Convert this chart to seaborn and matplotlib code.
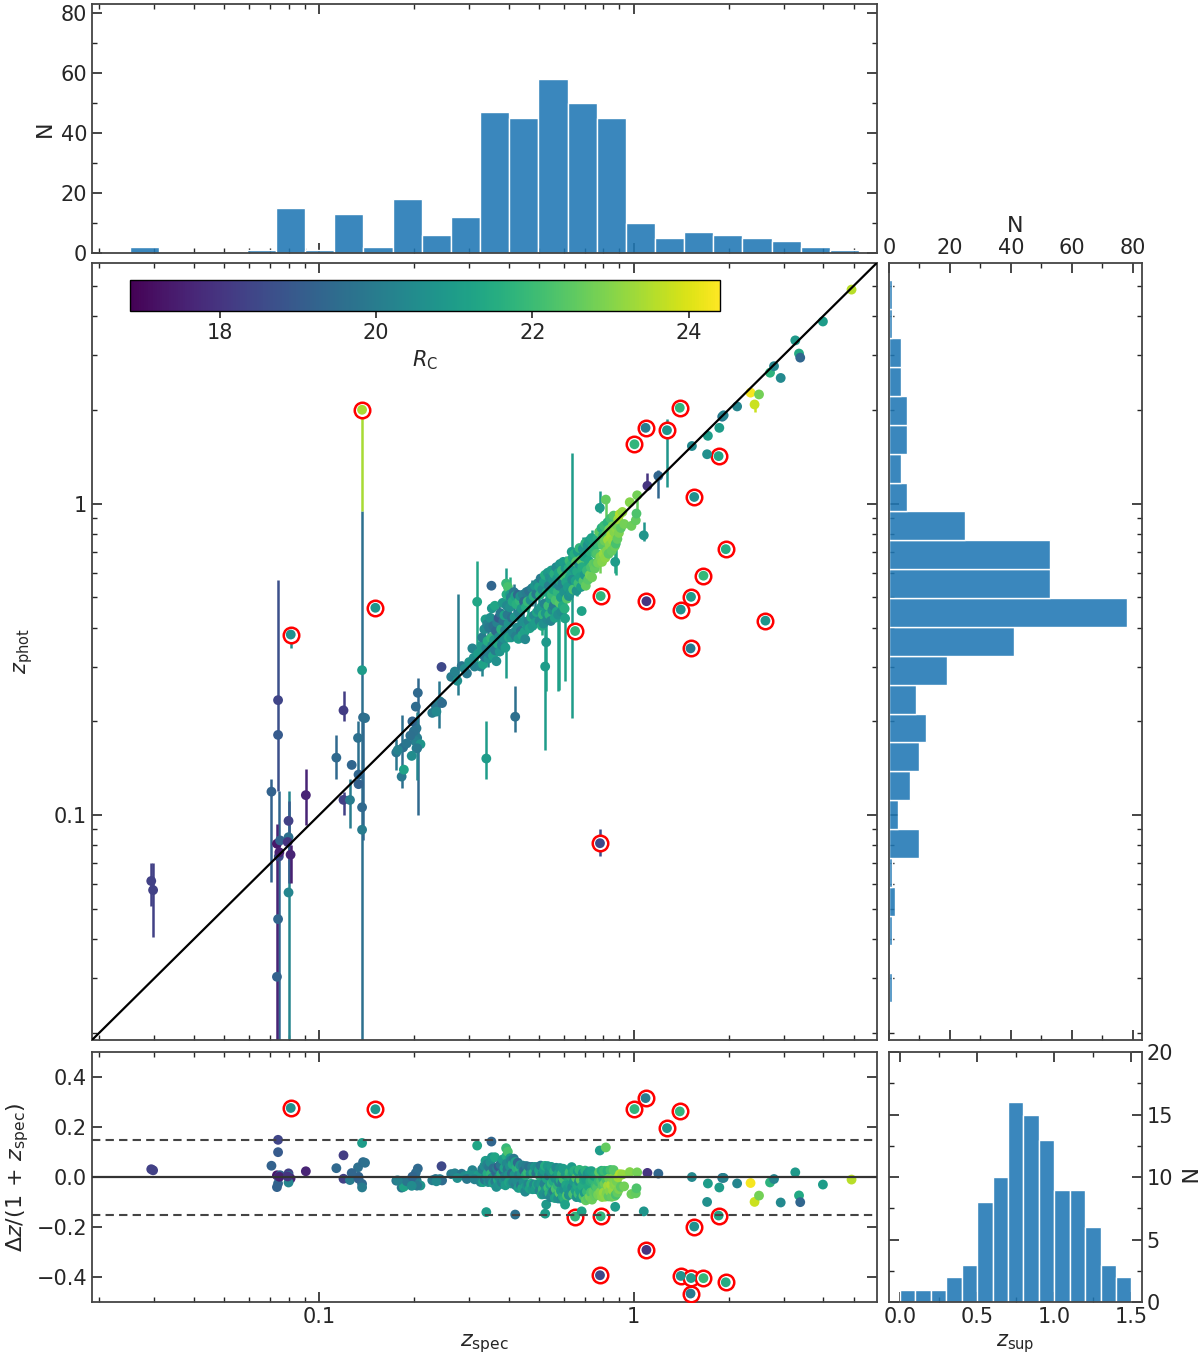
import numpy as np
import matplotlib
matplotlib.use("Agg")
import matplotlib.pyplot as plt
import seaborn as sns
from matplotlib.colors import Normalize
from matplotlib.cm import ScalarMappable
from matplotlib.ticker import MultipleLocator, NullFormatter

# ---------------- data ----------------
# low redshift points (z_spec < 0.1)
A_zs = [0.0293, 0.0297, 0.0706, 0.0741, 0.0741, 0.0735, 0.0752, 0.0745, 0.0741, 0.0735,
        0.0800, 0.0800, 0.0812, 0.0800, 0.0813, 0.0748, 0.0795, 0.0908]
A_zp = [0.0615, 0.0575, 0.119, 0.234, 0.181, 0.081, 0.083, 0.0737, 0.0464, 0.0303,
        0.0959, 0.0850, 0.0747, 0.0565, 0.380, 0.0760, 0.0820, 0.116]
A_rc = [18.3, 18.3, 19.2, 18.4, 19.0, 17.3, 19.2, 18.6, 19.3, 19.2,
        18.3, 19.6, 17.6, 20.3, 20.6, 17.5, 18.0, 17.6]

B_zs = [0.1135, 0.1196, 0.1196, 0.1254, 0.1330, 0.1335, 0.1335, 0.1370, 0.1380, 0.1370,
        0.1370, 0.1370, 0.1270, 0.1510, 0.1400]
B_zp = [0.153, 0.217, 0.112, 0.1119, 0.177, 0.135, 0.1258, 0.292, 0.206, 0.106,
        0.0898, 2.00, 0.145, 0.463, 0.205]
B_rc = [19.4, 18.2, 18.3, 20.0, 19.6, 19.3, 19.2, 21.0, 19.5, 19.4,
        20.0, 23.4, 19.3, 20.8, 19.6]

C_zs = [0.176, 0.185, 0.183, 0.186, 0.206, 0.203, 0.204, 0.205, 0.204, 0.200,
        0.202, 0.210, 0.205, 0.195, 0.190, 0.178, 0.198, 0.197,
        0.229, 0.2346, 0.242, 0.246, 0.245, 0.236,
        0.263, 0.270, 0.284, 0.307, 0.318, 0.290, 0.300, 0.275, 0.295, 0.310, 0.320, 0.312]
C_zp = [0.159, 0.165, 0.133, 0.140, 0.247, 0.223, 0.190, 0.177, 0.164, 0.186,
        0.173, 0.169, 0.164, 0.180, 0.170, 0.162, 0.200, 0.155,
        0.213, 0.225, 0.232, 0.229, 0.299, 0.215,
        0.278, 0.289, 0.301, 0.343, 0.484, 0.295, 0.310, 0.270, 0.285, 0.320, 0.330, 0.300]
C_rc = [19.8, 19.6, 19.9, 21.2, 19.4, 19.5, 19.8, 20.0, 20.2, 19.7,
        20.1, 20.8, 19.9, 19.6, 19.8, 20.2, 19.3, 20.5,
        20.0, 19.8, 20.1, 19.5, 18.5, 20.4,
        20.0, 20.2, 19.8, 20.3, 21.3, 20.5, 20.8, 20.6, 19.9, 20.6, 21.0, 20.2]

# dense band 0.32 < z_spec < 0.95
D12_zs = [0.326, 0.328, 0.330, 0.332, 0.335, 0.336, 0.338, 0.340, 0.340, 0.342,
          0.343, 0.345, 0.347, 0.348, 0.350, 0.352, 0.353, 0.354, 0.355, 0.357,
          0.358, 0.360, 0.362, 0.363, 0.365, 0.366, 0.368, 0.370, 0.372, 0.373,
          0.375, 0.377, 0.379, 0.381, 0.383, 0.385, 0.386, 0.388, 0.390, 0.391,
          0.393, 0.394, 0.395, 0.397, 0.398, 0.400, 0.401]
D12_zp = [0.300, 0.350, 0.372, 0.305, 0.395, 0.322, 0.425, 0.152, 0.345, 0.410,
          0.362, 0.318, 0.400, 0.330, 0.430, 0.370, 0.545, 0.461, 0.350, 0.325,
          0.405, 0.365, 0.470, 0.338, 0.390, 0.312, 0.415, 0.355, 0.430, 0.373,
          0.335, 0.445, 0.395, 0.352, 0.480, 0.420, 0.370, 0.438, 0.392, 0.345,
          0.554, 0.511, 0.470, 0.440, 0.540, 0.412, 0.372]
D12_rc = [20.3, 20.9, 20.0, 21.2, 20.5, 19.8, 21.0, 21.0, 20.4, 20.2,
          21.5, 20.7, 19.9, 20.1, 20.6, 21.8, 19.3, 20.8, 20.3, 21.1,
          19.6, 20.9, 21.3, 20.0, 19.4, 20.6, 20.2, 21.4, 19.0, 20.5,
          20.8, 19.8, 21.6, 20.1, 20.9, 19.7, 20.6, 21.2, 20.3, 21.0,
          21.9, 21.5, 20.4, 19.9, 22.2, 20.7, 21.3]

D13_zs = [0.404, 0.405, 0.407, 0.408, 0.410, 0.412, 0.414, 0.416, 0.418, 0.420,
          0.420, 0.422, 0.424, 0.426, 0.428, 0.430, 0.432, 0.434, 0.436, 0.438,
          0.440, 0.442, 0.444, 0.446, 0.448, 0.450, 0.452, 0.454, 0.456, 0.458,
          0.460, 0.463, 0.465, 0.467, 0.470, 0.472, 0.475, 0.477, 0.480, 0.482,
          0.485, 0.487, 0.490, 0.492, 0.495]
D13_zp = [0.465, 0.511, 0.500, 0.372, 0.430, 0.485, 0.385, 0.520, 0.432, 0.505,
          0.207, 0.375, 0.475, 0.400, 0.510, 0.368, 0.445, 0.488, 0.504, 0.390,
          0.460, 0.378, 0.510, 0.418, 0.485, 0.388, 0.367, 0.465, 0.520, 0.405,
          0.485, 0.420, 0.525, 0.398, 0.490, 0.432, 0.535, 0.405, 0.505, 0.438,
          0.545, 0.415, 0.512, 0.448, 0.555]
D13_rc = [20.6, 21.0, 20.2, 20.9, 19.6, 21.4, 20.4, 19.9, 20.8, 21.2,
          19.6, 20.1, 21.6, 20.5, 19.4, 21.0, 20.3, 21.8, 20.7, 19.8,
          20.9, 21.3, 20.2, 20.6, 19.5, 21.1, 20.4, 21.5, 20.0, 20.8,
          21.9, 20.3, 19.7, 21.2, 20.6, 21.4, 20.1, 20.9, 21.6, 20.4,
          20.8, 21.0, 19.9, 21.3, 20.5]

D14_zs = [0.498, 0.500, 0.502, 0.504, 0.506, 0.508, 0.510, 0.512, 0.514, 0.516,
          0.518, 0.520, 0.522, 0.523, 0.525, 0.527, 0.529, 0.531, 0.533, 0.535,
          0.537, 0.539, 0.541, 0.543, 0.545, 0.547, 0.549, 0.551, 0.553, 0.555,
          0.557, 0.559, 0.561, 0.563, 0.565, 0.567, 0.569, 0.571, 0.573, 0.575,
          0.577, 0.579, 0.581, 0.583, 0.585, 0.587, 0.589, 0.591, 0.593, 0.595,
          0.597, 0.599, 0.601, 0.603, 0.605, 0.607, 0.610, 0.613]
D14_zp = [0.455, 0.540, 0.420, 0.510, 0.575, 0.465, 0.405, 0.530, 0.440, 0.412,
          0.560, 0.478, 0.590, 0.300, 0.445, 0.359, 0.520, 0.425, 0.600, 0.470,
          0.545, 0.440, 0.580, 0.495, 0.420, 0.610, 0.510, 0.455, 0.570, 0.530,
          0.470, 0.595, 0.430, 0.555, 0.490, 0.625, 0.450, 0.575, 0.520, 0.440,
          0.600, 0.545, 0.480, 0.640, 0.565, 0.500, 0.450, 0.610, 0.555, 0.470,
          0.650, 0.585, 0.520, 0.460, 0.428, 0.620, 0.560, 0.495]
D14_rc = [20.7, 21.2, 20.3, 21.6, 20.0, 20.9, 21.4, 20.5, 21.8, 20.6,
          21.0, 20.2, 21.5, 21.0, 20.8, 20.9, 21.3, 20.4, 20.9, 22.0,
          20.1, 21.7, 20.6, 21.2, 20.3, 21.0, 21.9, 20.5, 20.8, 21.4,
          20.0, 21.6, 21.1, 20.7, 22.2, 20.4, 21.3, 20.9, 21.8, 20.6,
          21.2, 20.3, 22.4, 20.8, 21.5, 21.0, 20.5, 21.9, 20.2, 21.4,
          21.0, 22.1, 20.7, 21.6, 21.2, 20.9, 21.3, 22.3]

D15_zs = [0.617, 0.620, 0.622, 0.625, 0.627, 0.630, 0.632, 0.635, 0.637, 0.640,
          0.642, 0.645, 0.648, 0.651, 0.653, 0.656, 0.658, 0.661, 0.664, 0.667,
          0.670, 0.672, 0.675, 0.678, 0.680, 0.683, 0.686, 0.689, 0.692, 0.695,
          0.698, 0.701, 0.704, 0.707, 0.710, 0.713, 0.716, 0.719, 0.722, 0.725,
          0.728, 0.731, 0.734, 0.737, 0.740, 0.744, 0.748, 0.752, 0.756, 0.760]
D15_zp = [0.540, 0.620, 0.505, 0.655, 0.580, 0.520, 0.635, 0.700, 0.570, 0.670,
          0.530, 0.615, 0.690, 0.390, 0.565, 0.650, 0.525, 0.605, 0.700, 0.555,
          0.640, 0.720, 0.580, 0.660, 0.540, 0.452, 0.625, 0.715, 0.565, 0.675,
          0.590, 0.745, 0.545, 0.690, 0.610, 0.735, 0.570, 0.655, 0.760, 0.590,
          0.700, 0.625, 0.775, 0.580, 0.720, 0.640, 0.755, 0.619, 0.690, 0.645]
D15_rc = [21.0, 21.5, 20.6, 22.0, 21.2, 20.8, 21.7, 21.0, 20.5, 21.3,
          22.2, 20.9, 21.6, 21.8, 21.1, 22.4, 20.7, 21.4, 21.0, 22.0,
          20.6, 21.8, 21.2, 22.5, 21.0, 21.2, 21.5, 20.8, 22.3, 21.3,
          20.9, 21.7, 22.6, 21.1, 21.9, 20.7, 22.4, 21.4, 21.0, 22.8,
          21.6, 22.2, 21.2, 22.7, 21.8, 22.5, 21.3, 22.6, 22.0, 22.4]

D16_zs = [0.764, 0.767, 0.770, 0.773, 0.776, 0.780, 0.781, 0.783, 0.785, 0.787,
          0.790, 0.793, 0.796, 0.799, 0.802, 0.805, 0.808, 0.812, 0.815, 0.818,
          0.821, 0.825, 0.828, 0.832, 0.835, 0.839, 0.843, 0.847, 0.851, 0.855,
          0.859, 0.863, 0.867, 0.871, 0.873, 0.877, 0.880, 0.883, 0.887, 0.892,
          0.897, 0.903, 0.910, 0.920, 0.932]
D16_zp = [0.690, 0.775, 0.645, 0.740, 0.810, 0.969, 0.0813, 0.675, 0.505, 0.760,
          0.835, 0.650, 0.735, 0.790, 0.690, 0.850, 0.760, 0.670, 1.030, 0.800,
          0.705, 0.870, 0.765, 0.690, 0.825, 0.735, 0.895, 0.790, 0.705, 0.845,
          0.760, 0.915, 0.810, 0.730, 0.650, 0.744, 0.831, 0.852, 0.770, 0.890,
          0.805, 0.925, 0.835, 0.940, 0.860]
D16_rc = [22.3, 21.5, 22.8, 21.9, 22.5, 21.0, 18.5, 22.9, 21.8, 22.2,
          21.6, 23.0, 22.4, 21.8, 23.2, 22.0, 22.7, 23.1, 22.6, 22.3,
          22.9, 21.7, 23.3, 22.5, 22.8, 23.0, 22.1, 23.4, 22.6, 22.9,
          23.2, 22.4, 23.0, 22.7, 21.0, 22.2, 23.1, 22.8, 22.6, 23.3,
          22.9, 23.5, 22.5, 23.2, 22.8]

# high redshift points
E_zs = [0.971, 0.983, 1.005, 1.015, 1.020, 1.025, 1.076, 1.090, 1.097, 1.105,
        1.197, 1.275, 1.400, 1.410,
        1.515, 1.520, 1.530, 1.556, 1.665, 1.710, 1.720,
        1.860, 1.870, 1.910, 1.930, 1.960, 2.130,
        2.350, 2.420, 2.500, 2.620, 2.710,
        2.790, 2.930, 3.260, 3.350, 3.380,
        3.990, 4.920]
E_zp = [1.010, 0.848, 1.550, 0.884, 0.929, 1.063, 0.791, 1.750, 0.486, 1.140,
        1.227, 1.720, 2.030, 0.457,
        0.343, 0.502, 1.530, 1.050, 0.587, 1.440, 1.650,
        1.420, 1.750, 1.900, 1.920, 0.714, 2.050,
        2.270, 2.080, 2.240, 0.421, 2.630,
        2.760, 2.530, 3.340, 3.030, 2.940,
        3.840, 4.860]
E_rc = [23.0, 22.7, 21.8, 22.6, 22.3, 22.8, 20.8, 20.0, 18.0, 18.0,
        19.3, 20.8, 21.8, 20.7,
        19.9, 21.0, 20.4, 20.6, 21.9, 20.6, 21.0,
        21.3, 21.0, 19.8, 20.2, 21.5, 20.3,
        24.3, 23.8, 22.8, 20.8, 21.7,
        20.3, 20.4, 20.9, 21.4, 19.3,
        21.0, 23.6]

# visible z_phot error bars: z_spec, lower, upper, R_C
bar_zs = [0.0293, 0.0297, 0.0706, 0.0741, 0.0745, 0.0735, 0.0800, 0.0805, 0.0812, 0.0813,
          0.0908, 0.1135, 0.1196, 0.1196, 0.1254, 0.133, 0.137, 0.137, 0.138, 0.151,
          0.183, 0.176, 0.206, 0.205, 0.240, 0.276, 0.318, 0.340, 0.394, 0.420,
          0.523, 0.527, 0.576, 0.579, 0.605, 0.635, 0.659, 0.780, 0.815, 0.873,
          0.877, 1.024, 1.078, 1.105, 1.197, 1.275, 1.432, 1.515, 2.420, 0.781,
          0.360, 0.372, 0.430, 0.460, 0.500, 0.550, 0.620, 0.680, 0.720, 0.760,
          0.830, 0.890, 0.344, 0.405, 0.485, 0.565, 0.700, 0.800,
          0.330, 0.352, 0.380, 0.415, 0.445, 0.475, 0.510, 0.535, 0.590, 0.610,
          0.645, 0.690, 0.735, 0.780, 0.850, 0.910]
bar_lo = [0.051, 0.0407, 0.0611, 0.120, 0.019, 0.019, 0.019, 0.0606, 0.0606, 0.345,
          0.093, 0.131, 0.200, 0.100, 0.091, 0.131, 0.019, 0.950, 0.083, 0.440,
          0.122, 0.140, 0.100, 0.130, 0.190, 0.243, 0.296, 0.131, 0.275, 0.185,
          0.162, 0.250, 0.250, 0.252, 0.270, 0.205, 0.507, 0.930, 0.800, 0.600,
          0.590, 0.875, 0.760, 1.120, 1.040, 1.130, 0.440, 0.330, 1.970, 0.074,
          0.330, 0.380, 0.360, 0.400, 0.440, 0.480, 0.530, 0.580, 0.600, 0.630,
          0.700, 0.780, 0.300, 0.430, 0.420, 0.440, 0.620, 0.660,
          0.280, 0.330, 0.330, 0.440, 0.430, 0.470, 0.380, 0.440, 0.420, 0.580,
          0.570, 0.620, 0.720, 0.600, 0.690, 0.800]
bar_hi = [0.0705, 0.070, 0.131, 0.568, 0.120, 0.094, 0.120, 0.111, 0.080, 0.400,
          0.141, 0.181, 0.250, 0.119, 0.131, 0.200, 0.950, 2.000, 0.210, 0.490,
          0.210, 0.175, 0.275, 0.215, 0.270, 0.511, 0.652, 0.201, 0.623, 0.260,
          0.407, 0.500, 0.500, 0.472, 0.560, 1.450, 0.667, 1.100, 1.060, 0.750,
          0.755, 1.080, 0.870, 1.250, 1.280, 1.870, 0.480, 0.360, 2.140, 0.090,
          0.420, 0.480, 0.470, 0.520, 0.580, 0.620, 0.670, 0.730, 0.760, 0.800,
          0.860, 0.920, 0.400, 0.580, 0.560, 0.580, 0.780, 0.830,
          0.360, 0.410, 0.410, 0.550, 0.530, 0.570, 0.460, 0.520, 0.490, 0.680,
          0.660, 0.780, 0.820, 0.700, 0.800, 0.880]
bar_rc = [18.3, 18.3, 19.2, 18.7, 19.3, 17.6, 20.3, 19.0, 17.5, 20.6,
          17.6, 19.4, 18.2, 18.3, 20.0, 19.6, 19.6, 23.4, 19.4, 20.8,
          19.6, 19.8, 19.4, 20.3, 19.8, 20.0, 21.3, 21.0, 21.0, 19.6,
          21.0, 21.2, 21.0, 21.2, 21.2, 21.0, 21.3, 21.0, 22.6, 21.0,
          21.4, 22.6, 20.8, 18.0, 19.3, 20.8, 20.8, 19.6, 23.8, 18.6,
          20.5, 19.0, 20.3, 21.0, 20.7, 21.4, 21.0, 21.8, 22.2, 22.5,
          22.9, 23.2, 20.1, 21.5, 20.2, 21.6, 21.2, 22.4,
          20.3, 21.8, 20.1, 19.9, 20.2, 20.1, 21.4, 22.0, 20.5, 20.9,
          20.9, 20.8, 21.2, 22.8, 22.6, 22.5]

# histogram counts (log bins shared by z_spec and z_phot)
zspec_counts = [2, 0, 0, 0, 1, 15, 1, 13, 2, 18, 6, 12, 47, 45, 58, 50, 45, 10, 5, 7, 6, 5, 4, 2, 1]
zphot_counts = [1, 0, 1, 2, 1, 10, 3, 7, 10, 12, 9, 19, 41, 78, 53, 53, 25, 6, 4, 6, 6, 4, 4, 1, 1]
zsup_counts = [1, 1, 1, 2, 3, 8, 10, 16, 15, 13, 9, 9, 6, 3, 2]

zspec = np.array(A_zs + B_zs + C_zs + D12_zs + D13_zs + D14_zs + D15_zs + D16_zs + E_zs)
zphot = np.array(A_zp + B_zp + C_zp + D12_zp + D13_zp + D14_zp + D15_zp + D16_zp + E_zp)
rmag = np.array(A_rc + B_rc + C_rc + D12_rc + D13_rc + D14_rc + D15_rc + D16_rc + E_rc)
dz = (zphot - zspec) / (1 + zspec)
out = np.abs(dz) > 0.15

log_edges = np.linspace(np.log10(0.0251), np.log10(5.2), 26)
log_centers = 10 ** (0.5 * (log_edges[:-1] + log_edges[1:]))
sup_edges = np.linspace(0, 1.5, 16)
sup_centers = 0.5 * (sup_edges[:-1] + sup_edges[1:])

# ---------------- style ----------------
sns.set_style("ticks")
plt.rcParams["font.family"] = ["DejaVu Sans"]
plt.rcParams["mathtext.fontset"] = "dejavusans"
plt.rcParams.update({
    "xtick.direction": "in", "ytick.direction": "in",
    "xtick.top": True, "ytick.right": True,
    "xtick.major.size": 7, "ytick.major.size": 7,
    "xtick.minor.size": 3.5, "ytick.minor.size": 3.5,
    "xtick.major.width": 1.2, "ytick.major.width": 1.2,
    "xtick.minor.width": 1.0, "ytick.minor.width": 1.0,
    "xtick.labelsize": 15, "ytick.labelsize": 15,
    "axes.labelsize": 15, "axes.edgecolor": "#444444", "axes.linewidth": 1.3,
})

cmap = plt.get_cmap("viridis")
norm = Normalize(16.85, 24.4)
bar_color = "#1f77b4"
lim = (0.019, 5.92)
pt_size = 50
ring_size = 125

fig = plt.figure(figsize=(12, 13.58), dpi=100)
ax = fig.add_axes([0.0767, 0.2342, 0.654, 0.5722])
ax.set_xscale("log")
ax.set_yscale("log")
ax_top = fig.add_axes([0.0767, 0.8137, 0.654, 0.1834], sharex=ax)
ax_r = fig.add_axes([0.7408, 0.2342, 0.2108, 0.5722], sharey=ax)
ax_res = fig.add_axes([0.0767, 0.0412, 0.654, 0.1841], sharex=ax)
ax_br = fig.add_axes([0.7408, 0.0412, 0.2108, 0.1841])

# ---------------- histograms ----------------
sns.histplot(x=log_centers, weights=zspec_counts, bins=list(log_edges), log_scale=True,
             ax=ax_top, color=bar_color, alpha=0.88, edgecolor="white", linewidth=1)
sns.histplot(y=log_centers, weights=zphot_counts, bins=list(log_edges), log_scale=True,
             ax=ax_r, color=bar_color, alpha=0.88, edgecolor="white", linewidth=1)
sns.histplot(x=sup_centers, weights=zsup_counts, bins=list(sup_edges), ax=ax_br,
             color=bar_color, alpha=0.88, edgecolor="white", linewidth=1)

# ---------------- main panel ----------------
ax.vlines(bar_zs, bar_lo, bar_hi, colors=cmap(norm(np.array(bar_rc))), lw=1.8, zorder=2)
ax.scatter(zspec[out], zphot[out], s=ring_size, facecolors="white", edgecolors="red",
           linewidths=1.8, zorder=3)
sns.scatterplot(x=zspec, y=zphot, hue=rmag, palette="viridis", hue_norm=norm,
                s=pt_size, linewidth=0, legend=False, ax=ax, zorder=4)
ax.plot(lim, lim, color="black", lw=1.6, zorder=5)

cax = ax.inset_axes([0.048, 0.938, 0.752, 0.040])
cb = fig.colorbar(ScalarMappable(norm=norm, cmap=cmap), cax=cax, orientation="horizontal")
cb.set_ticks([18, 20, 22, 24])
cb.outline.set_edgecolor("black")
cb.outline.set_linewidth(1.0)
cax.tick_params(which="both", direction="out", top=False, bottom=True, length=5, labelsize=15)
cax.minorticks_off()
cb.set_label(r"$R_\mathrm{C}$", fontsize=15, labelpad=4)

# ---------------- residual panel ----------------
ax_res.scatter(zspec[out], dz[out], s=ring_size, facecolors="white", edgecolors="red",
               linewidths=1.8, zorder=3)
sns.scatterplot(x=zspec, y=dz, hue=rmag, palette="viridis", hue_norm=norm,
                s=pt_size, linewidth=0, legend=False, ax=ax_res, zorder=4)
ax_res.axhline(0, color="#333333", lw=1.6, zorder=5)
for lev in (0.15, -0.15):
    ax_res.axhline(lev, color="#444444", lw=1.5, ls=(0, (4, 2.5)), zorder=5)

# ---------------- axes, ticks, labels (after all seaborn calls) ----------------
ax.set_xlim(lim)
ax.set_ylim(lim)
ax.set_yticks([0.1, 1], ["0.1", "1"])
ax.yaxis.set_minor_formatter(NullFormatter())
ax.set_xticks([0.1, 1], ["0.1", "1"])
ax.xaxis.set_minor_formatter(NullFormatter())
ax.set_ylabel(r"$z_\mathrm{phot}$", labelpad=14)
ax.set_xlabel("")
ax.tick_params(which="both", labelbottom=False)

ax_top.set_ylim(0, 83)
ax_top.set_yticks([0, 20, 40, 60, 80])
ax_top.yaxis.set_minor_locator(MultipleLocator(10))
ax_top.set_ylabel("N", fontsize=16)
ax_top.set_xlabel("")
ax_top.tick_params(which="both", labelbottom=False)

ax_r.set_xlim(0, 83)
ax_r.set_xticks([0, 20, 40, 60, 80])
ax_r.xaxis.set_minor_locator(MultipleLocator(10))
ax_r.xaxis.set_label_position("top")
ax_r.set_xlabel("N", fontsize=16, labelpad=4)
ax_r.set_ylabel("")
ax_r.tick_params(which="both", labelleft=False, labelbottom=False, labeltop=True)

ax_res.set_ylim(-0.5, 0.5)
ax_res.set_yticks([-0.4, -0.2, 0.0, 0.2, 0.4])
ax_res.tick_params(which="both", labelbottom=True)
ax_res.set_xlabel(r"$z_\mathrm{spec}$", fontsize=16)
ax_res.set_ylabel(r"$\Delta z/(1\,+\,z_\mathrm{spec})$", fontsize=16)

ax_br.set_xlim(-0.072, 1.568)
ax_br.set_ylim(0, 20)
ax_br.set_xticks([0.0, 0.5, 1.0, 1.5])
ax_br.xaxis.set_minor_locator(MultipleLocator(0.25))
ax_br.set_yticks([0, 5, 10, 15, 20])
ax_br.yaxis.set_minor_locator(MultipleLocator(2.5))
ax_br.tick_params(which="both", labelleft=False, labelright=True)
ax_br.yaxis.set_label_position("right")
ax_br.set_ylabel("N", fontsize=16, rotation=-90, va="center", ha="center")
ax_br.yaxis.set_label_coords(1.17, 0.5)
ax_br.set_xlabel(r"$z_\mathrm{sup}$", fontsize=15)

fig.savefig("out.png", dpi=100)
